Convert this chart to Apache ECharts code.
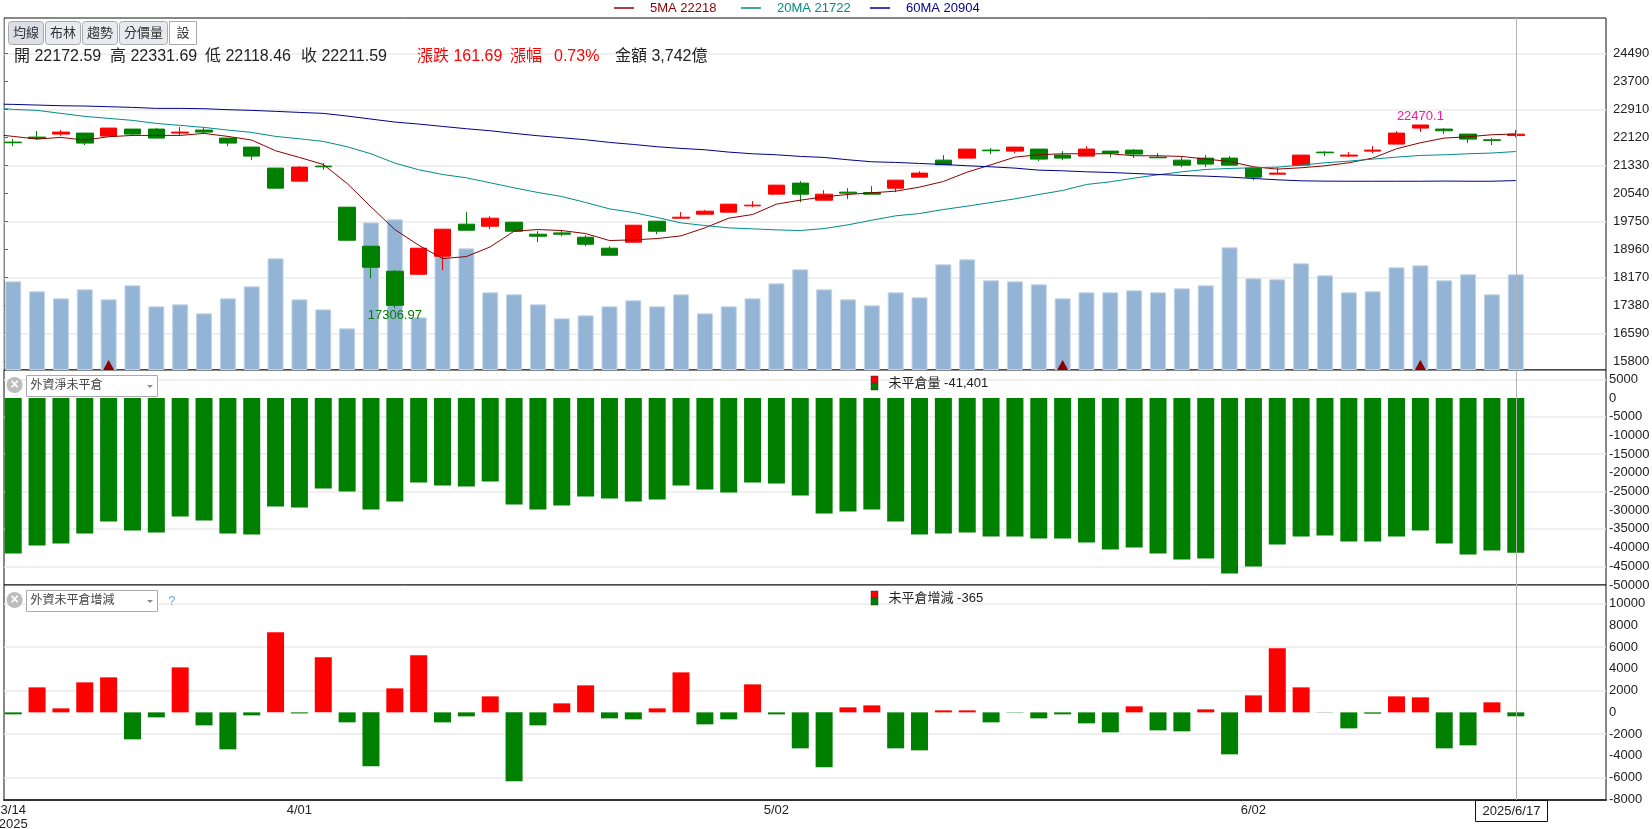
<!DOCTYPE html>
<html>
<head>
<meta charset="utf-8">
<style>html,body{margin:0;padding:0;background:#fff}#c{width:1652px;height:829px}</style>
<script src="https://cdn.jsdelivr.net/npm/echarts@6/dist/echarts.min.js"></script>
</head>
<body>
<div id="c"></div>
<script>
const dates = ['3/14','3/17','3/18','3/19','3/20','3/21','3/24','3/25','3/26','3/27','3/28','3/31','4/01','4/02','4/07','4/08','4/09','4/10','4/11','4/14','4/15','4/16','4/17','4/18','4/21','4/22','4/23','4/24','4/25','4/28','4/29','4/30','5/02','5/05','5/06','5/07','5/08','5/09','5/12','5/13','5/14','5/15','5/16','5/19','5/20','5/21','5/22','5/23','5/26','5/27','5/28','5/29','6/02','6/03','6/04','6/05','6/06','6/09','6/10','6/11','6/12','6/13','6/16','6/17'];
const blankSlots = ['', '', ''];
const labelledDates = ['3/14','4/01','5/02','6/02'];

const opens  = [21988,22129,22214,22242,22158,22355,22355,22242,22327,22101,21847,21255,20888,21311,20154,19054,18349,18264,18772,19675,19618,19731,19393,19430,19308,18998,19167,19759,19844,19957,20013,20192,20521,20832,20352,20578,20568,20690,21001,21480,21537,21763,21734,21791,21622,21593,21734,21763,21565,21480,21537,21537,21255,21085,21339,21706,21593,21734,21932,22383,22355,22214,22054,22172.59];
const closes = [21969,22092,22270,21960,22383,22214,22101,22270,22270,21960,21593,20690,21283,21292,19223,18461,17389,18998,19534,19505,19844,19477,19336,19393,19110,18800,19646,19477,19872,20042,20239,20211,20775,20521,20521,20549,20521,20916,21114,21349,21791,21744,21847,21509,21537,21791,21678,21650,21546,21339,21368,21339,21001,21114,21622,21687,21622,21763,22242,22470.1,22308,22073,22035,22211.59];
const lows   = [21875,22054,22167,21904,22158,22167,22101,22167,22242,21875,21480,20690,20888,21208,19223,18151,17306.97,18264,18377,19505,19534,19477,19167,19336,19054,18800,19167,19393,19844,19957,20013,20154,20521,20295,20352,20380,20521,20578,21001,21349,21537,21650,21678,21452,21480,21593,21565,21537,21537,21283,21283,21339,20916,21085,21339,21593,21565,21678,21932,22270,22214,21960,21904,22118.46];
const highs  = [22082,22299,22327,22242,22383,22355,22383,22412,22393,22101,21847,21255,21311,21396,20154,19054,18377,18998,19534,20013,19900,19731,19477,19505,19364,19054,19646,19759,20013,20070,20239,20324,20775,20888,20634,20690,20747,20916,21170,21622,21791,21819,21847,21791,21734,21875,21734,21791,21678,21565,21622,21593,21255,21283,21622,21734,21706,21875,22299,22470.1,22383,22214,22101,22331.69];

// each moving average starts one session before the first candle, off the left edge of the plot
const ma5  = [22224,22148,22073,22120,22045,22139,22176,22176,22176,22233,22148,22045,21744,21556,21358,20822,20164,19524,19082,18706,18762,19035,19477,19524,19496,19411,19214,19233,19270,19346,19571,19844,19947,20239,20352,20446,20512,20559,20606,20719,20879,21142,21349,21565,21631,21659,21659,21659,21603,21603,21584,21509,21443,21292,21227,21264,21321,21405,21537,21800,21969,22101,22139,22195,22218];
const ma20 = [22966,22910,22882,22797,22712,22656,22600,22515,22459,22402,22327,22261,22148,22082,22007,21857,21659,21396,21208,21076,20982,20841,20700,20568,20455,20286,20107,20004,19863,19712,19637,19571,19543,19515,19496,19552,19656,19788,19910,19976,20088,20183,20286,20389,20512,20625,20794,20869,20973,21067,21151,21217,21245,21264,21283,21339,21405,21452,21509,21565,21612,21631,21659,21680,21722];
const ma60 = [23060,23051,23032,23013,23004,22985,22966,22938,22938,22929,22901,22882,22854,22825,22797,22722,22637,22553,22496,22430,22365,22308,22233,22167,22111,22054,21979,21922,21857,21810,21772,21706,21659,21631,21584,21556,21490,21433,21415,21386,21358,21321,21292,21255,21198,21179,21151,21132,21104,21076,21048,21029,21001,20963,20926,20897,20888,20885,20885,20885,20885,20890,20885,20885,20904];

const volume = [3466,3075,2801,3153,2762,3310,2489,2567,2215,2801,3271,4365,2762,2371,1629,5772,5890,2059,4443,4756,3036,2958,2567,2020,2137,2489,2723,2489,2958,2215,2489,2801,3388,3935,3153,2762,2528,3036,2841,4131,4326,3505,3466,3349,2801,3036,3036,3114,3036,3192,3310,4795,3583,3544,4170,3701,3036,3075,4013,4091,3505,3742,2958,3742];
const settlementDays = ['3/20','5/20','6/11'];

const netOpenInterest = [-41561,-39427,-38894,-36227,-33026,-35427,-35960,-31693,-32760,-36227,-36493,-29026,-29293,-24225,-25025,-29826,-27692,-22625,-23425,-23692,-22358,-28492,-29826,-28759,-26359,-26892,-27692,-27159,-23425,-24492,-25292,-22625,-22892,-26092,-30893,-30359,-29826,-33026,-36493,-36227,-35960,-37027,-37027,-37560,-37560,-38627,-40494,-39961,-41561,-43161,-42894,-46895,-45028,-39160,-37027,-36760,-38360,-38360,-37027,-35427,-38894,-41827,-40761,-41401];
const openInterestChange = [-184,2300,368,2760,3220,-2484,-460,4140,-1196,-3404,-276,7361,-100,5061,-920,-4969,2208,5245,-920,-368,1472,-6349,-1196,828,2484,-552,-644,368,3680,-1104,-644,2576,-184,-3312,-5061,460,644,-3312,-3496,184,184,-920,-30,-552,-184,-1012,-1840,552,-1656,-1748,276,-3864,1564,5889,2300,-20,-1472,-120,1472,1380,-3312,-3036,920,-365];

const priceTicks = [24490,23700,22910,22120,21330,20540,19750,18960,18170,17380,16590,15800];
const priceGrid  = [24490,22910,21330,19750,18170,16590];
const oiTicks    = [5000,0,-5000,-10000,-15000,-20000,-25000,-30000,-35000,-40000,-45000,-50000];
const oiGrid     = [5000,-5000,-15000,-25000,-35000,-45000];
const diffTicks  = [10000,8000,6000,4000,2000,0,-2000,-4000,-6000,-8000];
const diffGrid   = [10000,6000,2000,-2000,-6000];

const legendNames = ['5MA 22218','20MA 21722','60MA 20904'];
const toolButtons = ['均線','布林','趨勢','分價量','設'];
const lastDate = '2025/6/17';

const FONT = '"Liberation Sans","Noto Sans CJK TC",sans-serif';
const PRE = ' ';                       // the session before the first candle
const cats = [PRE].concat(dates, blankSlots);
const lead = arr => ['-'].concat(arr);
const UP = '#ff0000', DOWN = '#008000';
const GRIDC = '#ebebeb';
const panels = [
  {top:18,  height:352, min:15566, max:25485},
  {top:370, height:215, min:-50000, max:7487},
  {top:585, height:215, min:-8065, max:11720}
];
const DATA_LEFT = -22.55, DATA_W = 1621.8, FRAME_LEFT = 4, FRAME_W = 1602;

const grid = [];
panels.forEach(p => grid.push({left:FRAME_LEFT,width:FRAME_W,top:p.top,height:p.height,show:true,borderColor:'#111',borderWidth:1,backgroundColor:'#fff',z:0,outerBoundsMode:'none'}));
panels.forEach(p => grid.push({left:DATA_LEFT,width:DATA_W,top:p.top,height:p.height,show:false,outerBoundsMode:'none'}));

const xAxis = [];
panels.forEach((p,i) => xAxis.push({gridIndex:i,type:'value',min:0,max:1,
  show:i===2,axisTick:{show:false},axisLabel:{show:false},splitLine:{show:false},
  axisLine:{show:true,onZero:false,lineStyle:{color:'#333',width:2}}}));
panels.forEach((p,i) => xAxis.push({gridIndex:i+3,type:'category',data:cats,
  show:i===2,axisTick:{show:false},axisLine:{show:false,onZero:false},splitLine:{show:false},
  axisLabel:{show:i===2,margin:3,fontFamily:FONT,fontSize:13,color:'#222',lineHeight:14,
    interval:(idx,v)=>labelledDates.includes(v),
    formatter:(v)=>v===dates[0]?v+'\n2025':v}}));

const yAxis = [];
function frameAxes(i,ticks,gridVals,margin,showTick){
  yAxis.push({gridIndex:i,type:'value',position:'right',min:panels[i].min,max:panels[i].max,
    axisLine:{show:false},splitLine:{show:false},
    axisTick:{show:showTick,length:4,inside:false,lineStyle:{color:'#666'},customValues:ticks},
    axisLabel:{show:true,margin:margin,fontFamily:FONT,fontSize:13,color:'#222',customValues:ticks,formatter:v=>String(v),hideOverlap:false}});
  yAxis.push({gridIndex:i,type:'value',position:'left',min:panels[i].min,max:panels[i].max,
    axisLine:{show:false},axisLabel:{show:false},
    axisTick:{show:false,customValues:gridVals},
    splitLine:{show:true,lineStyle:{color:GRIDC,width:1.5}}});
}
frameAxes(0,priceTicks,priceGrid,7,true);
frameAxes(1,oiTicks,oiGrid,3,false);
frameAxes(2,diffTicks,diffGrid,3,false);
// data axes
yAxis.push({gridIndex:3,type:'value',show:false,min:panels[0].min,max:panels[0].max,splitLine:{show:false}}); // 6 price
yAxis.push({gridIndex:3,type:'value',show:false,min:0,max:13763,splitLine:{show:false}}); // 7 volume
yAxis.push({gridIndex:4,type:'value',show:false,min:panels[1].min,max:panels[1].max,splitLine:{show:false}}); // 8
yAxis.push({gridIndex:5,type:'value',show:false,min:panels[2].min,max:panels[2].max,splitLine:{show:false}}); // 9

const cross = {silent:true,symbol:'none',animation:false,label:{show:false},
  lineStyle:{color:'#b3b3b3',width:1,type:'solid'},data:[{xAxis:dates[dates.length-1]}]};
const signColor = p => p.value >= 0 ? UP : DOWN;

function maSeries(name,data,color){
  return {name,type:'line',xAxisIndex:3,yAxisIndex:6,data,showSymbol:false,symbol:'none',z:6,
    lineStyle:{color,width:1},itemStyle:{color},emphasis:{disabled:true}};
}

const series = [
  {type:'bar',xAxisIndex:3,yAxisIndex:7,data:lead(volume),barWidth:16,z:2,
   itemStyle:{color:'#93b4d4',borderColor:'#c3d4e6',borderWidth:1}},
  {type:'scatter',xAxisIndex:3,yAxisIndex:7,z:3,symbol:'triangle',symbolSize:[11,10],clip:false,
   itemStyle:{color:'#8b0000',opacity:1},
   data:settlementDays.map(d=>[cats.indexOf(d),195])},
  {type:'candlestick',xAxisIndex:3,yAxisIndex:6,z:4,barWidth:17,
   data:[['-','-','-','-']].concat(opens.map((o,i)=>[o,closes[i],lows[i],highs[i]])),
   itemStyle:{color:UP,color0:DOWN,borderColor:UP,borderColor0:DOWN,borderWidth:1},
   markLine:cross,
   markPoint:{symbol:'circle',symbolSize:0,animation:false,data:[
     {coord:[dates[16],17306.97],value:'17306.97',label:{show:true,position:'bottom',distance:1,formatter:'17306.97',color:'#008000',fontFamily:FONT,fontSize:13}},
     {coord:[dates[59],22470.1],value:'22470.1',label:{show:true,position:'top',distance:2,formatter:'22470.1',color:'#ff1493',fontFamily:FONT,fontSize:13}}
   ]}},
  maSeries(legendNames[0],ma5,'#8b0000'),
  maSeries(legendNames[1],ma20,'#008b8b'),
  maSeries(legendNames[2],ma60,'#00008b'),
  {type:'bar',xAxisIndex:4,yAxisIndex:8,data:lead(netOpenInterest),barWidth:17,z:3,
   itemStyle:{color:signColor},markLine:cross},
  {type:'bar',xAxisIndex:5,yAxisIndex:9,data:lead(openInterestChange),barWidth:17,z:3,
   itemStyle:{color:signColor},markLine:cross}
];

const txt = (x,y,text,o={}) => ({type:'text',z:50,style:Object.assign({x,y,text,fill:'#222',fontFamily:FONT,fontSize:16,verticalAlign:'middle'},o)});
const box = (x,y,w,h,fill,stroke,r=0,extra={}) => ({type:'rect',z:49,shape:{x,y,width:w,height:h,r},style:Object.assign({fill,stroke,lineWidth:1},extra)});

const gfx = [];
// mask: keep the moving averages from spilling left of the plot frame
gfx.push({type:'rect',z:40,shape:{x:0,y:18,width:3.5,height:352},style:{fill:'#fff'}});
// toolbar
const btnX = [[8.5,35],[45.5,35],[82.5,35],[119.5,48],[169.5,27]];
toolButtons.forEach((t,i)=>{
  const [x,w]=btnX[i];
  const fill = i===0?'#dcdfe6':(i===4?'#ffffff':'#e8eaef');
  gfx.push(box(x,21.5,w,23,fill,'#aaaaaa',i===4?0:3));
  gfx.push(txt(x+w/2,33.5,t,{align:'center',fontSize:13,fill:'#333'}));
});
// quote line
[[14,'開 22172.59'],[110,'高 22331.69'],[205,'低 22118.46'],[301,'收 22211.59']].forEach(a=>gfx.push(txt(a[0],57,a[1])));
[[417,'漲跌 161.69'],[510,'漲幅'],[554,'0.73%']].forEach(a=>gfx.push(txt(a[0],57,a[1],{fill:'#ff0000'})));
gfx.push(txt(615,57,'金額 3,742億'));
// panel selectors
function selector(cy,label){
  gfx.push({type:'circle',z:49,shape:{cx:14.6,cy,r:8},style:{fill:'#bdbdbd'}});
  gfx.push(txt(14.6,cy,'×',{align:'center',fontSize:14,fontWeight:'bold',fill:'#fff'}));
  gfx.push(box(26.5,cy-9.5,131,21,'#fff','#aaaaaa'));
  gfx.push(txt(30.5,cy+1,label,{fontSize:12,fill:'#444'}));
  gfx.push({type:'polygon',z:50,shape:{points:[[147,cy],[153,cy],[150,cy+3]]},style:{fill:'#888'}});
}
selector(385,'外資淨未平倉');
selector(600,'外資未平倉增減');
gfx.push(txt(171.8,601,'?',{fontSize:13,fill:'#6fa8dc',align:'center'}));
// panel titles
function panelTitle(y,label){
  gfx.push({type:'rect',z:49,shape:{x:871,y:y-7,width:7,height:7},style:{fill:'#ff0000',stroke:'#333',lineWidth:0.5}});
  gfx.push({type:'rect',z:49,shape:{x:871,y:y,width:7,height:7},style:{fill:'#008000',stroke:'#333',lineWidth:0.5}});
  gfx.push(txt(888.5,y,label,{fontSize:13}));
}
panelTitle(383,'未平倉量 -41,401');
panelTitle(598,'未平倉增減 -365');
// date box
gfx.push(box(1475.5,800.5,72,21,'#fff','#111'));
gfx.push(txt(1511.5,811.5,lastDate,{align:'center',fontSize:13}));

const legendItem = (left,name,color) => ({show:true,left,top:1.5,padding:0,itemWidth:20,itemHeight:1.5,icon:'rect',selectedMode:false,
  data:[{name,textStyle:{color,fontSize:13,fontFamily:FONT,padding:[0,0,0,11]}}]});

const chart = echarts.init(document.getElementById('c'),null,{renderer:'canvas'});
chart.setOption({
  animation:false,
  backgroundColor:'#fff',
  textStyle:{fontFamily:FONT},
  legend:[legendItem(614,legendNames[0],'#8b0000'),legendItem(741,legendNames[1],'#008b8b'),legendItem(870,legendNames[2],'#00008b')],
  grid,xAxis,yAxis,series,
  graphic:{elements:gfx}
});
</script>
</body>
</html>
